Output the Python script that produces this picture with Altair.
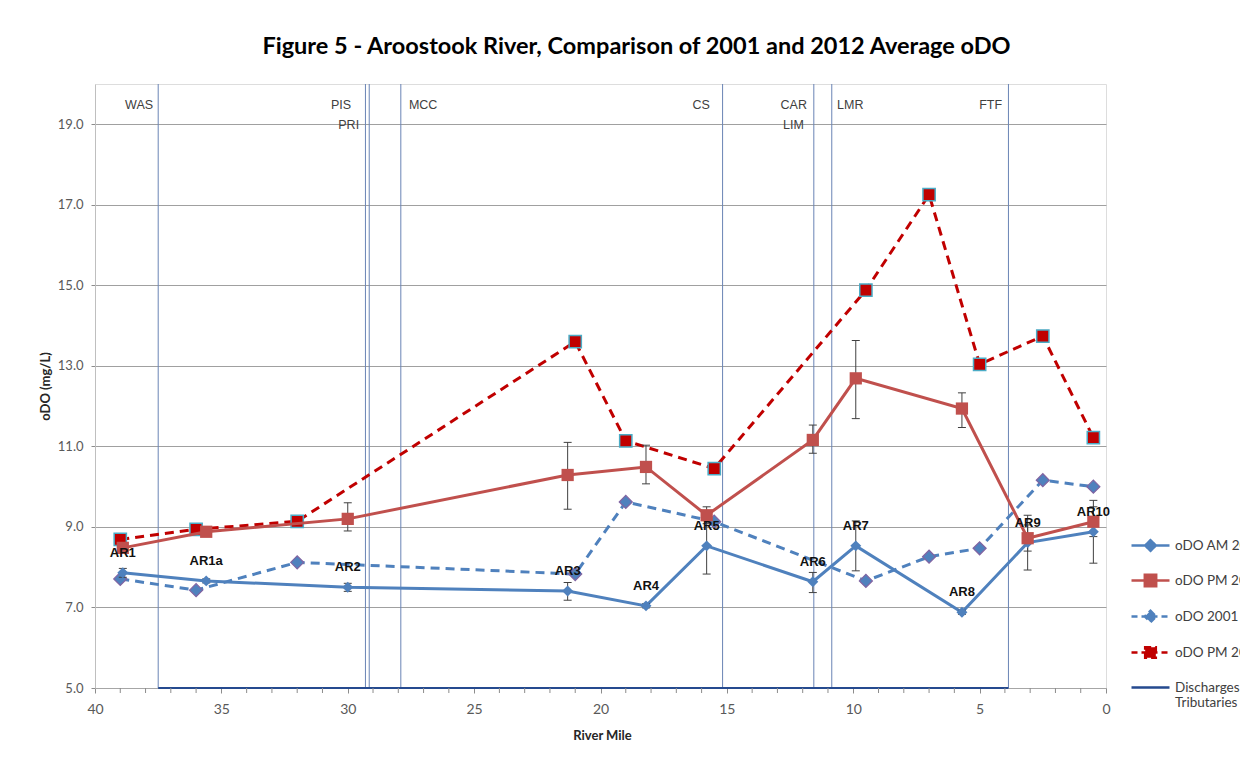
import altair as alt
import pandas as pd

# ---------------- data ----------------
stations = ["AR1", "AR1a", "AR2", "AR3", "AR4", "AR5", "AR6", "AR7", "AR8", "AR9", "AR10"]
mile_2012 = [38.9, 35.6, 30.0, 21.3, 18.2, 15.8, 11.6, 9.9, 5.7, 3.1, 0.5]
am_2012 = [7.86, 7.66, 7.50, 7.41, 7.04, 8.53, 7.64, 8.53, 6.88, 8.61, 8.88]
am_2012_lo = [7.75, 7.61, 7.40, 7.18, 6.99, 7.83, 7.37, 7.91, 6.83, 7.93, 8.10]
am_2012_hi = [7.97, 7.71, 7.60, 7.62, 7.09, 9.23, 7.87, 9.15, 6.93, 9.29, 9.66]
pm_2012 = [8.48, 8.88, 9.20, 10.29, 10.49, 9.29, 11.16, 12.69, 11.94, 8.72, 9.13]
pm_2012_lo = [8.40, 8.82, 8.90, 9.44, 10.07, 9.08, 10.83, 11.69, 11.47, 8.40, 8.76]
pm_2012_hi = [8.56, 8.94, 9.60, 11.10, 11.03, 9.50, 11.53, 13.63, 12.33, 9.05, 9.50]

mile_2001 = [39.0, 36.0, 32.0, 21.0, 19.0, 15.5, 9.5, 7.0, 5.0, 2.5, 0.5]
am_2001 = [7.71, 7.43, 8.12, 7.83, 9.62, 9.13, 7.66, 8.26, 8.47, 10.16, 10.00]
pm_2001 = [8.69, 8.94, 9.14, 13.60, 11.14, 10.45, 14.88, 17.25, 13.04, 13.74, 11.22]

discharge_mile = [37.5, 29.3, 29.15, 27.9, 15.17, 11.56, 10.85, 3.86]
dis_label_text = ["WAS", "PIS", "PRI", "MCC", "CS", "CAR", "LIM", "LMR", "FTF"]
dis_label_mile = [37.7, 29.87, 29.55, 27.58, 15.67, 11.83, 11.95, 10.64, 4.11]
dis_label_val = [19.47, 19.47, 18.97, 19.47, 19.47, 19.47, 18.97, 19.47, 19.47]
dis_label_side = ["right", "right", "right", "left", "right", "right", "right", "left", "right"]

y_ticks = [5, 7, 9, 11, 13, 15, 17, 19]
x_label_ticks = [0, 5, 10, 15, 20, 25, 30, 35, 40]
x_minor_ticks = [m for m in range(0, 41) if m not in x_label_ticks]

legend_names = ["oDO AM 2012", "oDO PM 2012", "oDO 2001 AM", "oDO PM 2001", "Discharges & Tributaries"]
legend_colors = ["#4F81BD", "#C0504D", "#4F81BD", "#C00000", "#254A8F"]
legend_dashes = [[1, 0], [1, 0], [6, 4], [6, 4], [1, 0]]
legend_paths = [
    "M-1,0H1M0,-0.28L0.28,0L0,0.28L-0.28,0Z",
    "M-1,0H1M-0.3,-0.3H0.3V0.3H-0.3Z",
    "M-1,0H1M0,-0.3L0.3,0L0,0.3L-0.3,0Z",
    "M-1,0H1M-0.28,-0.28H0.28V0.28H-0.28Z",
    "M-1,0H1",
]

# ---------------- frames ----------------
d12 = pd.DataFrame({"station": stations, "mile": mile_2012, "am": am_2012, "am_lo": am_2012_lo,
                    "am_hi": am_2012_hi, "pm": pm_2012, "pm_lo": pm_2012_lo, "pm_hi": pm_2012_hi})
d01 = pd.DataFrame({"mile": mile_2001, "am": am_2001, "pm": pm_2001})
ddis = pd.DataFrame({"mile": discharge_mile})
dbottom = pd.DataFrame({"mile": [max(discharge_mile)], "mile2": [min(discharge_mile)]})
dlab = pd.DataFrame({"text": dis_label_text, "mile": dis_label_mile, "val": dis_label_val, "side": dis_label_side})
dleg = pd.DataFrame({"series": legend_names, "mile": [20] * 5, "val": [10] * 5})
dminor = pd.DataFrame({"mile": x_minor_ticks})

FONT = "Lato"
LABEL_GRAY = "#595959"
TICK_GRAY = "#8C8C8C"

x_main = alt.X("mile:Q",
               scale=alt.Scale(domain=[0, 40], reverse=True, nice=False, zero=False),
               axis=alt.Axis(values=x_label_ticks, title="River Mile", grid=False,
                             labelOverlap=False, labelFlush=False, format="d",
                             labelFont=FONT, labelFontSize=14, labelColor=LABEL_GRAY,
                             labelPadding=9, tickSize=5, tickColor=TICK_GRAY,
                             domainColor="#A6A6A6", titleFont=FONT, titleFontSize=13,
                             titleFontWeight="bold", titleColor="#262626",
                             titleX=507, titleY=47, titleBaseline="middle"))
y_main = alt.Y("val:Q",
               scale=alt.Scale(domain=[5, 20], nice=False, zero=False),
               axis=alt.Axis(values=y_ticks, format=".1f", title="oDO (mg/L)", grid=True,
                             gridColor="#A0A0A0", gridWidth=1, domainColor="#BFBFBF",
                             tickColor=TICK_GRAY, tickSize=4, labelPadding=8,
                             labelFont=FONT, labelFontSize=13, labelColor=LABEL_GRAY,
                             titleFont=FONT, titleFontSize=13, titleFontWeight="bold",
                             titleColor="#262626", titleX=-50, titleY=302,
                             titleAlign="center", titleBaseline="middle"))

grid_host = alt.Chart(dleg).mark_point(opacity=0).encode(x=x_main, y=y_main).transform_filter("false")

# discharge vertical rules
vlines = alt.Chart(ddis).mark_rule(color="#6A84B5", strokeWidth=1).encode(
    x="mile:Q", y=alt.datum(5), y2=alt.datum(20))
bottom = alt.Chart(dbottom).mark_rule(color="#254A8F", strokeWidth=2).encode(
    x="mile:Q", x2="mile2:Q", y=alt.datum(5))
minor = alt.Chart(dminor).mark_rule(color=TICK_GRAY, strokeWidth=1, y2Offset=5).encode(
    x="mile:Q", y=alt.datum(5), y2=alt.datum(5))

lab_r = alt.Chart(dlab).transform_filter("datum.side == 'right'").mark_text(
    align="right", baseline="middle", font="Liberation Sans", fontSize=12.5, color="#404040").encode(
    x="mile:Q", y="val:Q", text="text:N")
lab_l = alt.Chart(dlab).transform_filter("datum.side == 'left'").mark_text(
    align="left", baseline="middle", font="Liberation Sans", fontSize=12.5, color="#404040").encode(
    x="mile:Q", y="val:Q", text="text:N")

dash = [9, 6]
am01_line = alt.Chart(d01).mark_line(color="#4F81BD", strokeWidth=3, strokeDash=dash).encode(
    x="mile:Q", y=alt.Y("am:Q"))
am01_pts = alt.Chart(d01).mark_point(shape="diamond", filled=True, size=170, fill="#4F81BD",
                                      stroke="#8064A2", strokeWidth=1.2, opacity=1).encode(
    x="mile:Q", y="am:Q")
pm01_line = alt.Chart(d01).mark_line(color="#C00000", strokeWidth=3, strokeDash=dash).encode(
    x="mile:Q", y="pm:Q")
pm01_pts = alt.Chart(d01).mark_point(shape="square", filled=True, size=150, fill="#C00000",
                                      stroke="#4BACC6", strokeWidth=1.5, opacity=1).encode(
    x="mile:Q", y="pm:Q")

am12_line = alt.Chart(d12).mark_line(color="#4F81BD", strokeWidth=3).encode(x="mile:Q", y="am:Q")
am12_pts = alt.Chart(d12).mark_point(shape="diamond", filled=True, size=120, color="#4F81BD",
                                      opacity=1).encode(x="mile:Q", y="am:Q")
pm12_line = alt.Chart(d12).mark_line(color="#C0504D", strokeWidth=3).encode(x="mile:Q", y="pm:Q")
pm12_pts = alt.Chart(d12).mark_point(shape="square", filled=True, size=150, color="#C0504D",
                                      opacity=1).encode(x="mile:Q", y="pm:Q")

EB = "#404040"
def errbars(lo, hi):
    rule = alt.Chart(d12).mark_rule(color=EB, strokeWidth=1).encode(x="mile:Q", y=f"{lo}:Q", y2=f"{hi}:Q")
    cap1 = alt.Chart(d12).mark_tick(orient="horizontal", size=8, thickness=1, color=EB, opacity=1).encode(
        x="mile:Q", y=f"{lo}:Q")
    cap2 = alt.Chart(d12).mark_tick(orient="horizontal", size=8, thickness=1, color=EB, opacity=1).encode(
        x="mile:Q", y=f"{hi}:Q")
    return [rule, cap1, cap2]

st_labels = alt.Chart(d12).mark_text(font="Liberation Sans", fontSize=13, fontWeight="bold",
                                     color="#111111", dy=-20, baseline="middle").encode(
    x="mile:Q", y="am:Q", text="station:N")

leg = alt.Legend(title=None, orient="none", legendX=1035, legendY=441, padding=0,
                 symbolSize=1444, symbolStrokeWidth=2.5, labelFont=FONT, labelFontSize=13.5,
                 labelColor="#404040", labelOffset=4, labelLimit=0, rowPadding=4,
                 labelExpr="datum.label == 'Discharges & Tributaries' ? ['Discharges &', 'Tributaries'] : datum.label")
legend_layer = alt.Chart(dleg).mark_point(filled=False, opacity=1, strokeWidth=2.5).encode(
    x="mile:Q", y="val:Q",
    stroke=alt.Stroke("series:N", scale=alt.Scale(domain=legend_names, range=legend_colors), legend=leg),
    fill=alt.Fill("series:N", scale=alt.Scale(domain=legend_names, range=legend_colors), legend=leg),
    shape=alt.Shape("series:N", scale=alt.Scale(domain=legend_names, range=legend_paths), legend=leg),
    strokeDash=alt.StrokeDash("series:N", scale=alt.Scale(domain=legend_names, range=legend_dashes), legend=leg),
).transform_filter("false")

layers = [grid_host, vlines, bottom, minor, lab_r, lab_l, am01_line, pm01_line, am01_pts, pm01_pts,
          am12_line, pm12_line] + errbars("am_lo", "am_hi") + errbars("pm_lo", "pm_hi") + \
         [am12_pts, pm12_pts, st_labels, legend_layer]

chart = alt.layer(*layers).properties(
    width=1011, height=604,
    autosize=alt.AutoSizeParams(type="none"),
    padding={"left": 87, "top": 76, "right": 134, "bottom": 60},
    title=alt.TitleParams("Figure 5 - Aroostook River, Comparison of 2001 and 2012 Average oDO",
                          font=FONT, fontSize=23.5, fontWeight="bold", color="#000000",
                          anchor="middle", dx=36, offset=25, frame="group"),
).configure_view(stroke=None).configure(background="white")

chart.save("out.html", embed_options={"renderer": "svg", "actions": False})
